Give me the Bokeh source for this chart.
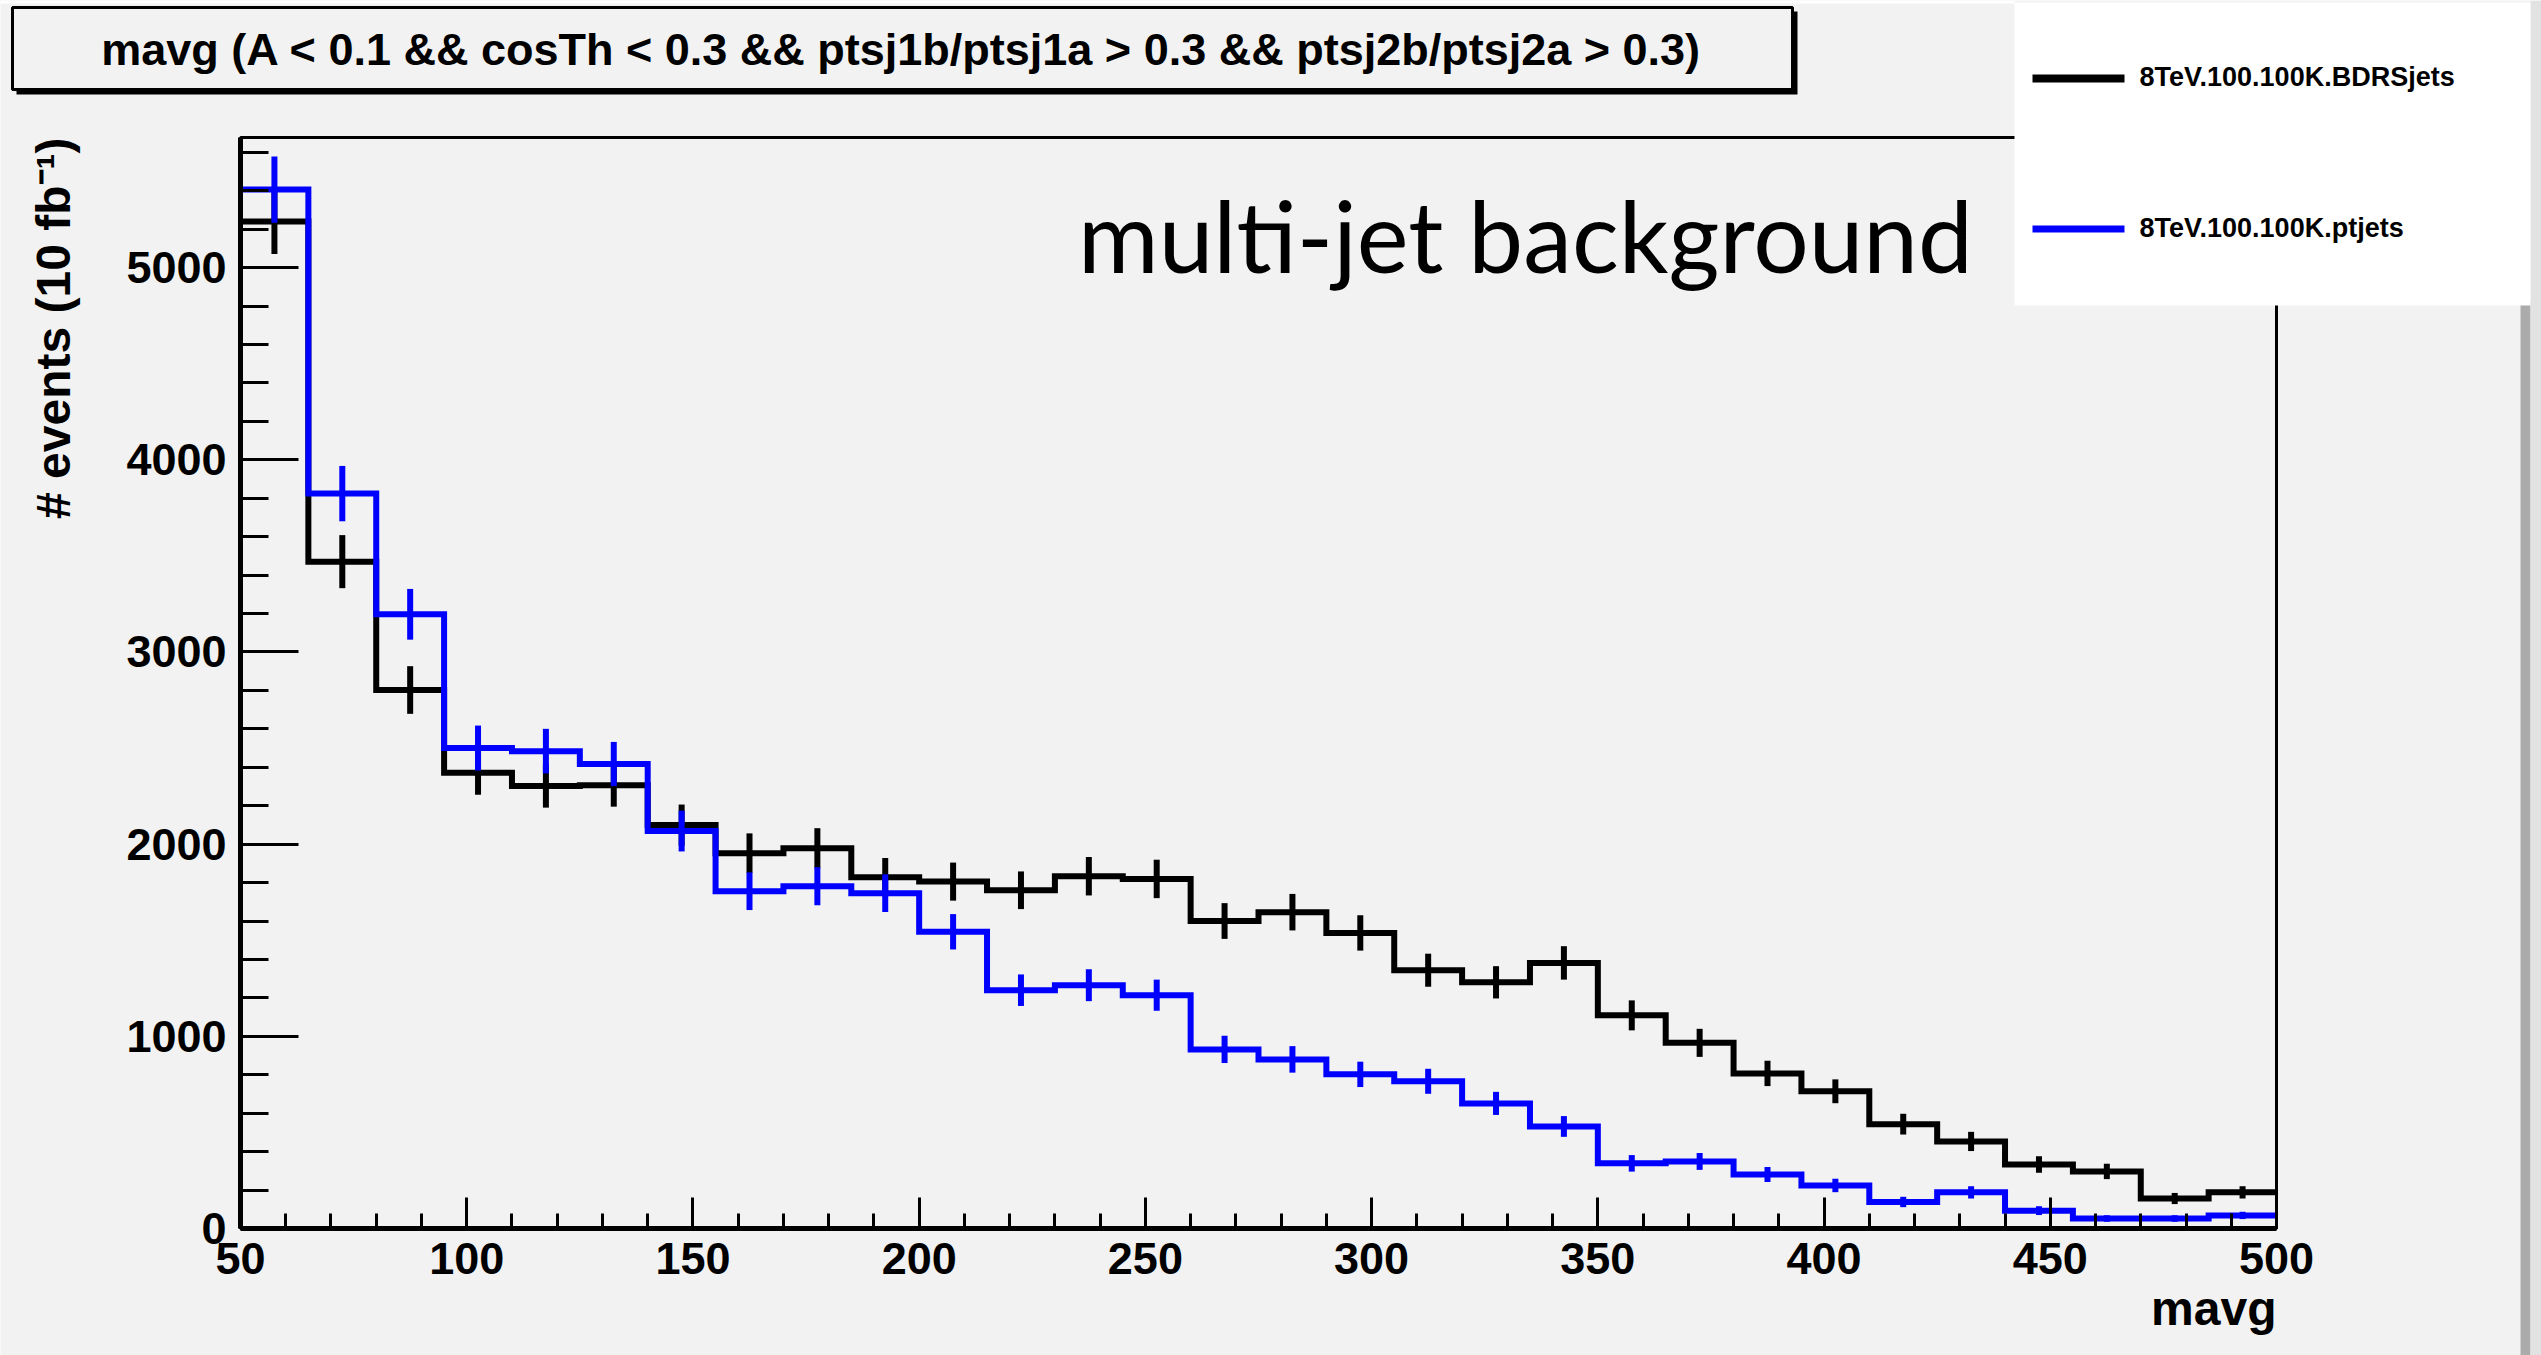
import numpy as np
from bokeh.plotting import figure
from bokeh.models import (Label, BoxAnnotation, SingleIntervalTicker, Range1d, LinearAxis)
from bokeh.embed import file_html
from bokeh.resources import INLINE

# ---------------- data ----------------
bin_low = [50, 65, 80, 95, 110, 125, 140, 155, 170, 185, 200, 215, 230, 245, 260,
           275, 290, 305, 320, 335, 350, 365, 380, 395, 410, 425, 440, 455, 470, 485]
bin_width = 15

bdrs_counts = [5240, 3470, 2802, 2371, 2302, 2307, 2099, 1953, 1979, 1828, 1805, 1760, 1833, 1819, 1600,
               1646, 1538, 1344, 1281, 1382, 1109, 966, 807, 714, 543, 453, 333, 297, 156, 188]
bdrs_errors = [169, 138, 124, 114, 112, 112, 107, 103, 104, 100, 99, 98, 100, 100, 93,
               95, 92, 86, 84, 87, 78, 73, 66, 62, 54, 50, 43, 40, 29, 32]

pt_counts = [5406, 3824, 3196, 2500, 2484, 2417, 2068, 1755, 1781, 1745, 1544, 1240, 1266, 1214, 932,
             880, 802, 766, 651, 531, 339, 349, 281, 224, 138, 188, 93, 52, 52, 68]
pt_errors = [172, 144, 132, 117, 116, 115, 106, 98, 99, 98, 92, 82, 83, 81, 71,
             69, 66, 65, 60, 54, 43, 44, 39, 35, 27, 32, 23, 17, 17, 19]

series_names = ["8TeV.100.100K.BDRSjets", "8TeV.100.100K.ptjets"]
series_colors = ["#000000", "#0000ff"]

title_text = "mavg (A < 0.1 && cosTh < 0.3 && ptsj1b/ptsj1a > 0.3 && ptsj2b/ptsj2a > 0.3)"
x_label = "mavg"
y_label = "# events (10 fb\u207b\u00b9)"
note_text = "multi-jet background"

x_start, x_end = 50, 500
y_start, y_end = 0, 5677

# ---------------- layout ----------------
W, H = 2541, 1355
FL, FR, FT, FB = 240, 2276, 137, 1228   # histogram frame edges in page pixels
BASE_K = 0.36                            # baseline compensation (fraction of font size)

def dx(px):
    return x_start + (px - FL) * (x_end - x_start) / (FR - FL)

def dy(py):
    return y_start + (FB - py) * (y_end - y_start) / (FB - FT)

BG = "#f2f2f2"
FONT = "Liberation Sans"

p = figure(width=W, height=H, output_backend="svg", toolbar_location=None,
           x_axis_location=None, y_axis_location=None,
           x_range=Range1d(dx(0), dx(W)), y_range=Range1d(dy(H), dy(0)),
           min_border_left=0, min_border_right=0, min_border_top=0, min_border_bottom=0)
p.title.visible = False
p.background_fill_color = BG
p.border_fill_color = BG
p.outline_line_color = None
p.grid.visible = False

# frame: top and right edges
p.add_layout(BoxAnnotation(left=x_start, right=x_end, bottom=y_start, top=y_end,
                           fill_alpha=0, line_color="black", line_alpha=1, line_width=3))

# axes (fixed at the frame's left and bottom edges)
xaxis = LinearAxis(fixed_location=y_start, bounds=(x_start, x_end),
                   ticker=SingleIntervalTicker(interval=50, num_minor_ticks=5))
yaxis = LinearAxis(fixed_location=x_start, bounds=(y_start, y_end),
                   ticker=SingleIntervalTicker(interval=1000, num_minor_ticks=5))
for ax in (xaxis, yaxis):
    ax.axis_line_width = 5
    ax.axis_line_color = "black"
    ax.major_tick_out = 0
    ax.minor_tick_out = 0
    ax.major_tick_line_width = 3
    ax.minor_tick_line_width = 3
    ax.major_label_text_font = FONT
    ax.major_label_text_font_style = "bold"
    ax.major_label_text_font_size = "45px"
    ax.major_label_text_color = "black"
    ax.major_label_standoff = 14
xaxis.major_tick_in = 31
xaxis.minor_tick_in = 15
yaxis.major_tick_in = 58
yaxis.minor_tick_in = 28
p.add_layout(xaxis, "below")
p.add_layout(yaxis, "left")

# histograms
centers = [b + bin_width / 2 for b in bin_low]
edges = bin_low + [bin_low[-1] + bin_width]
for counts, errs, col in ((bdrs_counts, bdrs_errors, series_colors[0]),
                          (pt_counts, pt_errors, series_colors[1])):
    ys = counts + [counts[-1]]
    p.step(edges, ys, mode="after", line_color=col, line_width=6, line_join="miter")
    lo = [c - e for c, e in zip(counts, errs)]
    hi = [c + e for c, e in zip(counts, errs)]
    p.segment(x0=centers, y0=lo, x1=centers, y1=hi, line_color=col, line_width=6)

# title box with shadow
p.add_layout(BoxAnnotation(left=dx(16), right=dx(1797), top=dy(11), bottom=dy(94),
                           fill_color="black", fill_alpha=1, line_alpha=0))
p.add_layout(BoxAnnotation(left=dx(12), right=dx(1792), top=dy(7), bottom=dy(89),
                           fill_color=BG, fill_alpha=1, line_color="black", line_alpha=1, line_width=3))
# thin white strip at the very top
p.add_layout(BoxAnnotation(left=dx(0), right=dx(2014), top=dy(0), bottom=dy(3),
                           fill_color="white", fill_alpha=1, line_alpha=0))

# right-edge strip
p.add_layout(BoxAnnotation(left=dx(2520), right=dx(2530), top=dy(300), bottom=dy(H),
                           fill_color="#ababab", fill_alpha=1, line_alpha=0))
p.add_layout(BoxAnnotation(left=dx(2530), right=dx(W), top=dy(0), bottom=dy(H),
                           fill_color="#e2e2e2", fill_alpha=1, line_alpha=0))

# legend box
p.add_layout(BoxAnnotation(left=dx(2014), right=dx(2530), top=dy(2), bottom=dy(305),
                           fill_color="white", fill_alpha=1, line_alpha=0))
leg_y = [(74, 82, 86), (225, 232, 237)]
LEG_SIZE = 27
for (t, b, base), name, col in zip(leg_y, series_names, series_colors):
    p.add_layout(BoxAnnotation(left=dx(2032), right=dx(2124), top=dy(t), bottom=dy(b),
                               fill_color=col, fill_alpha=1, line_alpha=0))
    p.add_layout(Label(x=dx(2139), y=dy(base - BASE_K * LEG_SIZE), text=name, text_font=FONT,
                       text_font_style="bold", text_font_size=f"{LEG_SIZE}px",
                       text_align="left", text_baseline="alphabetic", text_color="black"))

# texts
TS, NS, XS, YS = 45, 98, 48, 48
p.add_layout(Label(x=dx(901), y=dy(65 - BASE_K * TS), text=title_text, text_font=FONT,
                   text_font_style="bold", text_font_size=f"{TS}px",
                   text_align="center", text_baseline="alphabetic", text_color="black"))
p.add_layout(Label(x=dx(1525), y=dy(270 - BASE_K * NS), text=note_text, text_font="Lato",
                   text_font_size=f"{NS}px", text_align="center",
                   text_baseline="alphabetic", text_color="black"))
p.add_layout(Label(x=dx(2276), y=dy(1325 - BASE_K * XS), text=x_label, text_font=FONT,
                   text_font_style="bold", text_font_size=f"{XS}px",
                   text_align="right", text_baseline="alphabetic", text_color="black"))
p.add_layout(Label(x=dx(70 - BASE_K * YS), y=dy(137), text=y_label, text_font=FONT,
                   text_font_style="bold", text_font_size=f"{YS}px", angle=np.pi / 2,
                   text_align="right", text_baseline="alphabetic", text_color="black"))

html = file_html(p, INLINE)
html = html.replace("<body>", '<body style="margin:0;background:#f2f2f2;overflow:hidden">', 1)
open("out.html", "w").write(html)
